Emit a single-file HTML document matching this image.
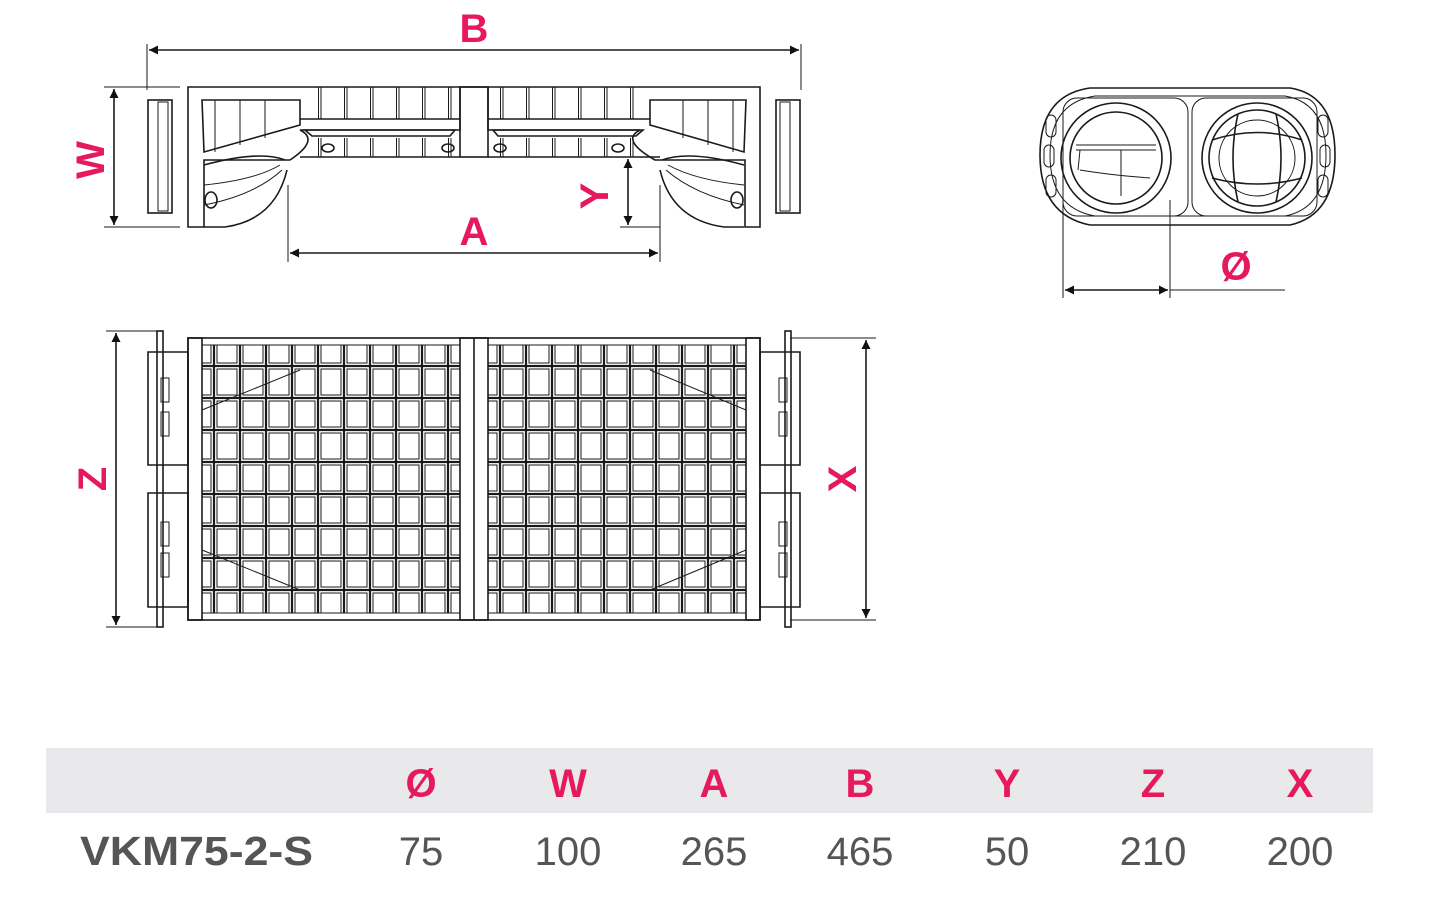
<!DOCTYPE html>
<html><head><style>
body{margin:0;background:#fff;width:1431px;height:900px;overflow:hidden}
svg{position:absolute;left:0;top:0}
.l{fill:none;stroke:#1a1a1a;stroke-width:1.6}
.t{fill:none;stroke:#1a1a1a;stroke-width:1}
.p{font-family:"Liberation Sans",sans-serif;font-weight:bold;fill:#e5195b}
.g{font-family:"Liberation Sans",sans-serif;fill:#555}
</style></head><body>
<svg width="1431" height="900" viewBox="0 0 1431 900">
<defs>
<marker id="a" viewBox="0 0 10 10" refX="10" refY="5" markerWidth="16" markerHeight="9" orient="auto-start-reverse" markerUnits="userSpaceOnUse"><path d="M0,0L10,5L0,10z" fill="#111"/></marker>
<pattern id="grid" x="214" y="366" width="26" height="32" patternUnits="userSpaceOnUse"><rect x="0" y="0" width="26" height="32" fill="none" stroke="#1a1a1a" stroke-width="2.2"/><rect x="3" y="3" width="20" height="26" fill="none" stroke="#1a1a1a" stroke-width="1"/></pattern>
<pattern id="fgrid" x="318" y="87" width="26" height="80" patternUnits="userSpaceOnUse"><line x1="0" y1="0" x2="0" y2="80" stroke="#1a1a1a" stroke-width="2"/><line x1="3" y1="0" x2="3" y2="80" stroke="#1a1a1a" stroke-width="1"/></pattern>
</defs>

<line class="t" x1="147" y1="44" x2="147" y2="90"/><line class="t" x1="801" y1="44" x2="801" y2="90"/>
<line class="l" x1="149" y1="50" x2="799" y2="50" marker-start="url(#a)" marker-end="url(#a)"/>
<text class="p" x="474" y="42" font-size="40" text-anchor="middle">B</text>
<line class="t" x1="104" y1="87" x2="180" y2="87"/><line class="t" x1="104" y1="227" x2="180" y2="227"/>
<line class="l" x1="114" y1="89" x2="114" y2="225" marker-start="url(#a)" marker-end="url(#a)"/>
<text class="p" x="0" y="0" font-size="40" text-anchor="middle" transform="translate(104,160) rotate(-90)">W</text>
<rect class="l" x="148" y="100" width="24" height="113"/><rect class="t" x="158" y="102" width="10" height="109"/>
<rect class="l" x="776" y="100" width="24" height="113"/><rect class="t" x="780" y="102" width="10" height="109"/>
<path class="l" d="M188,87H760V227H745V160H655Q620,140 640,130H488V87H460V130H300Q320,140 290,160H204V227H188Z"/>
<rect class="l" x="460" y="87" width="28" height="70"/>
<rect x="300" y="87" width="160" height="32" fill="url(#fgrid)"/>
<rect x="488" y="87" width="160" height="32" fill="url(#fgrid)"/>
<rect x="300" y="138" width="160" height="19" fill="url(#fgrid)"/>
<rect x="488" y="138" width="160" height="19" fill="url(#fgrid)"/>
<line class="l" x1="300" y1="119" x2="460" y2="119"/><line class="l" x1="488" y1="119" x2="650" y2="119"/>
<path class="l" d="M305,130H455L450,136H312Z M493,130H643L636,136H498Z"/>
<line class="l" x1="300" y1="157" x2="460" y2="157"/><line class="l" x1="488" y1="157" x2="660" y2="157"/>
<path class="l" d="M202,100H300V125L204,152Z M746,100H650V125L744,152Z"/>
<path class="t" d="M215,100V152 M240,100V145 M265,100V138 M733,100V152 M708,100V145 M683,100V138"/>
<path class="l" d="M204,165Q260,150 285,160 M744,165Q690,150 662,160"/>
<path class="l" d="M204,227H225Q275,220 287,170 M744,227H724Q672,220 660,170"/>
<path class="t" d="M204,185Q255,180 280,165 M204,205Q255,195 282,170 M744,185Q695,180 668,165 M744,205Q695,195 666,170"/>
<ellipse class="l" cx="211" cy="200" rx="6" ry="8"/><ellipse class="l" cx="737" cy="200" rx="6" ry="8"/>
<ellipse class="l" cx="328" cy="148" rx="6" ry="4"/><ellipse class="l" cx="448" cy="148" rx="6" ry="4"/>
<ellipse class="l" cx="500" cy="148" rx="6" ry="4"/><ellipse class="l" cx="618" cy="148" rx="6" ry="4"/>
<line class="t" x1="288" y1="185" x2="288" y2="262"/><line class="t" x1="660" y1="185" x2="660" y2="262"/>
<line class="l" x1="290" y1="253" x2="658" y2="253" marker-start="url(#a)" marker-end="url(#a)"/>
<text class="p" x="474" y="245" font-size="40" text-anchor="middle">A</text>
<line class="t" x1="620" y1="157" x2="660" y2="157"/><line class="t" x1="620" y1="227" x2="660" y2="227"/>
<line class="l" x1="628" y1="159" x2="628" y2="225" marker-start="url(#a)" marker-end="url(#a)"/>
<text class="p" x="0" y="0" font-size="40" text-anchor="middle" transform="translate(608,196) rotate(-90)">Y</text>

<path class="l" d="M1090,88H1290Q1335,95 1335,155Q1335,215 1290,225H1090Q1040,215 1040,155Q1040,95 1090,88Z"/>
<path class="t" d="M1095,96H1285Q1326,103 1326,155Q1326,208 1285,216H1095Q1050,208 1050,155Q1050,103 1095,96Z"/>
<rect class="t" x="1063" y="98" width="125" height="118" rx="14"/>
<rect class="t" x="1192" y="98" width="125" height="118" rx="14"/>
<circle class="l" cx="1116" cy="158" r="55" stroke-width="2.5"/><circle class="l" cx="1116" cy="158" r="46" stroke-width="2.5"/>
<path class="t" d="M1076,145H1156 M1076,150H1156 M1080,170Q1110,175 1150,178 M1121,150V196 M1080,150L1078,170"/>
<circle class="l" cx="1257" cy="158" r="55" stroke-width="2.5"/><circle class="l" cx="1257" cy="158" r="48" stroke-width="2.5"/>
<circle class="t" cx="1257" cy="158" r="38"/>
<path class="l" d="M1212,140Q1257,125 1302,140 M1212,178Q1257,190 1302,178 M1238,114Q1228,158 1238,202 M1276,114Q1286,158 1276,202"/>
<rect class="t" x="1046" y="115" width="10" height="22" rx="5"/><rect class="t" x="1044" y="145" width="10" height="22" rx="5"/><rect class="t" x="1046" y="175" width="10" height="22" rx="5"/>
<rect class="t" x="1318" y="115" width="10" height="22" rx="5"/><rect class="t" x="1320" y="145" width="10" height="22" rx="5"/><rect class="t" x="1318" y="175" width="10" height="22" rx="5"/>
<line class="t" x1="1063" y1="200" x2="1063" y2="298"/><line class="t" x1="1170" y1="200" x2="1170" y2="298"/>
<line class="l" x1="1065" y1="290" x2="1168" y2="290" marker-start="url(#a)" marker-end="url(#a)"/>
<line class="t" x1="1170" y1="290" x2="1285" y2="290"/>
<text class="p" x="1236" y="280" font-size="40" text-anchor="middle">Ø</text>

<line class="t" x1="106" y1="331" x2="160" y2="331"/><line class="t" x1="106" y1="627" x2="160" y2="627"/>
<line class="l" x1="116" y1="333" x2="116" y2="625" marker-start="url(#a)" marker-end="url(#a)"/>
<text class="p" x="0" y="0" font-size="40" text-anchor="middle" transform="translate(106,479) rotate(-90)">Z</text>
<line class="t" x1="790" y1="338" x2="876" y2="338"/><line class="t" x1="790" y1="620" x2="876" y2="620"/>
<line class="l" x1="866" y1="340" x2="866" y2="618" marker-start="url(#a)" marker-end="url(#a)"/>
<text class="p" x="0" y="0" font-size="40" text-anchor="middle" transform="translate(856,479) rotate(-90)">X</text>
<rect class="l" x="188" y="338" width="572" height="282"/>
<rect x="202" y="345" width="258" height="268" fill="url(#grid)"/>
<rect x="488" y="345" width="258" height="268" fill="url(#grid)"/>
<rect x="188" y="338" width="14" height="282" fill="#fff" class="l"/>
<rect x="746" y="338" width="14" height="282" fill="#fff" class="l"/>
<rect x="460" y="338" width="28" height="282" fill="#fff" class="l"/>
<line class="l" x1="474" y1="338" x2="474" y2="620"/>
<path class="t" d="M202,345H460 M488,345H746 M202,613H460 M488,613H746 M202,410L300,370 M202,550L300,590 M746,410L650,370 M746,550L650,590"/>
<path class="l" d="M148,352H188V465H148Z M148,493H188V607H148Z M800,352H760V465H800Z M800,493H760V607H800Z"/>
<rect class="l" x="157" y="331" width="6" height="296" fill="#fff"/>
<rect class="l" x="785" y="331" width="6" height="296" fill="#fff"/>
<rect class="t" x="161" y="378" width="8" height="24"/><rect class="t" x="161" y="412" width="8" height="24"/>
<rect class="t" x="161" y="522" width="8" height="24"/><rect class="t" x="161" y="553" width="8" height="24"/>
<rect class="t" x="779" y="378" width="8" height="24"/><rect class="t" x="779" y="412" width="8" height="24"/>
<rect class="t" x="779" y="522" width="8" height="24"/><rect class="t" x="779" y="553" width="8" height="24"/>

<rect x="46" y="748" width="1327" height="65" fill="#e9e9eb"/>
<g class="p" font-size="40" text-anchor="middle">
<text x="421" y="797">Ø</text><text x="568" y="797">W</text><text x="714" y="797">A</text><text x="860" y="797">B</text><text x="1007" y="797">Y</text><text x="1153" y="797">Z</text><text x="1300" y="797">X</text>
</g>
<text class="g" x="80" y="865" font-size="41" font-weight="bold" textLength="233" lengthAdjust="spacingAndGlyphs">VKM75-2-S</text>
<g class="g" font-size="40" text-anchor="middle">
<text x="421" y="865">75</text><text x="568" y="865">100</text><text x="714" y="865">265</text><text x="860" y="865">465</text><text x="1007" y="865">50</text><text x="1153" y="865">210</text><text x="1300" y="865">200</text>
</g>
</svg>
</body></html>
